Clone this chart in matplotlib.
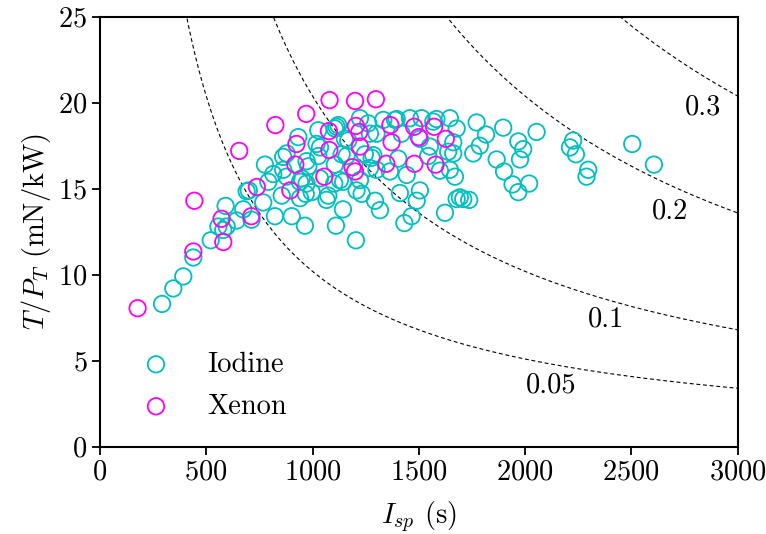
import numpy as np
import matplotlib
matplotlib.use("Agg")
import matplotlib.pyplot as plt

plt.rcParams['font.family'] = 'serif'
plt.rcParams['font.serif'] = ['cmr10']
plt.rcParams['mathtext.fontset'] = 'cm'
plt.rcParams['axes.formatter.use_mathtext'] = True

# Iodine thrusters: specific impulse (s) and thrust-to-power (mN/kW)
iodine_isp = [292, 345, 392, 439, 521, 557, 580, 596, 591, 643, 674, 690, 700, 713,
              768, 776, 792, 815, 823, 855, 862, 862, 878, 878, 902, 933, 941, 941,
              949, 964, 968, 972, 972, 980, 996, 1019, 1027, 1027, 1035, 1035, 1066,
              1074, 1102, 1105, 1105, 1110, 1113, 1121, 1129, 1137, 1143, 1144, 1152,
              1160, 1168, 1204, 1207, 1223, 1223, 1231, 1246, 1262, 1270, 1270, 1278,
              1286, 1294, 1301, 1301, 1317, 1333, 1364, 1388, 1396, 1403, 1411, 1419,
              1432, 1443, 1458, 1466, 1490, 1505, 1505, 1513, 1544, 1552, 1568, 1583,
              1599, 1623, 1638, 1646, 1646, 1662, 1662, 1670, 1678, 1678, 1693, 1709,
              1737, 1756, 1772, 1787, 1816, 1866, 1897, 1901, 1941, 1968, 1968, 1976,
              1991, 2019, 2054, 2211, 2226, 2239, 2289, 2297, 2504, 2606]
iodine_tp = [8.3, 9.2, 9.9, 11.0, 12.0, 12.8, 12.6, 12.8, 14.0, 13.15, 13.8, 14.85, 14.9, 13.2,
             14.2, 16.4, 15.4, 15.85, 13.4, 14.6, 16.85, 16.1, 17.05, 15.7, 13.4, 18.0, 15.4, 14.45,
             15.6, 12.85, 14.7, 15.3, 16.6, 16.3, 14.8, 17.6, 16.9, 18.4, 17.4, 15.6, 14.35,
             14.6, 15.3, 16.4, 18.5, 12.85, 18.6, 18.7, 15.5, 17.0, 13.8, 15.4, 17.9,
             16.9, 17.8, 12.0, 14.9, 15.5, 19.1, 14.7, 17.0, 18.8, 18.2, 16.2, 16.8,
             16.95, 14.3, 18.2, 16.1, 13.75, 19.0, 16.0, 19.0, 19.05, 16.75, 14.75, 18.2,
             13.0, 15.8, 19.1, 13.4, 14.3, 14.9, 17.9, 19.1, 16.9, 17.45, 18.9, 19.05,
             16.05, 13.6, 17.15, 19.1, 16.1, 17.7, 17.05, 15.7, 18.5, 14.4, 14.5, 14.4,
             14.35, 17.05, 18.85, 17.5, 18.15, 16.7, 18.55, 16.0, 15.25, 17.75, 14.8, 16.7,
             17.3, 15.3, 18.3, 17.4, 17.8, 17.0, 15.7, 16.1, 17.6, 16.4]

# Xenon thrusters
xenon_isp = [177, 439, 444, 580, 572, 655, 712, 738, 825, 895, 919, 924, 970, 1055,
             1079, 1077, 1080, 1200, 1298, 1204, 1220, 1223, 1188, 1200, 1366, 1372,
             1347, 1478, 1500, 1479, 1572, 1627, 1579]
xenon_tp = [8.05, 11.35, 14.3, 11.9, 13.25, 17.2, 13.4, 15.1, 18.7, 14.9, 16.4, 17.6, 19.35, 15.7,
            17.25, 18.35, 20.15, 20.1, 20.2, 18.65, 18.3, 17.45, 16.25, 16.0, 18.7, 17.7,
            16.45, 18.6, 18.0, 16.45, 18.6, 17.9, 16.4]

# constant-efficiency lines and where their labels sit
efficiencies = [0.05, 0.1, 0.2, 0.3]
eff_label_isp = [2121, 2380, 2681, 2836]
eff_label_tp = [3.55, 7.4, 13.7, 19.75]
g0 = 9.81

FS = 20.5

fig = plt.figure(figsize=(7.66, 5.34), dpi=100)
ax = fig.add_axes([0.1305, 0.1635, 0.8325, 0.8052])

isp = np.linspace(100, 3000, 400)
for eta, lx, ly in zip(efficiencies, eff_label_isp, eff_label_tp):
    # T/P = 2*eta/(g0*Isp), converted to mN/kW
    ax.plot(isp, 2 * eta / (g0 * isp) * 1e6, 'k--', lw=0.8, dashes=(3.5, 2.5))
    ax.text(lx, ly, f"{eta:g}", fontsize=FS, ha='center', va='center')

ax.scatter(iodine_isp, iodine_tp, s=140, facecolors='none', edgecolors='c',
           linewidths=1.3, label='Iodine', zorder=3)
ax.scatter(xenon_isp, xenon_tp, s=140, facecolors='none', edgecolors='magenta',
           linewidths=1.3, label='Xenon', zorder=4)

ax.set_xlim(0, 3000)
ax.set_ylim(0, 25)
ax.set_xticks(range(0, 3001, 500))
ax.set_yticks(range(0, 26, 5))
ax.set_xlabel(r'$I_{sp}$ (s)', fontsize=FS, labelpad=10)
ax.set_ylabel(r'$T/P_T$ (mN/kW)', fontsize=FS)
ax.tick_params(direction='out', length=5.5, width=1.3, labelsize=FS)
for sp in ax.spines.values():
    sp.set_linewidth(1.5)

ax.legend(loc='lower left', bbox_to_anchor=(0.003, 0.003), frameon=False,
          fontsize=FS, handletextpad=0.8, labelspacing=0.55)

fig.savefig('out.png', dpi=100)
